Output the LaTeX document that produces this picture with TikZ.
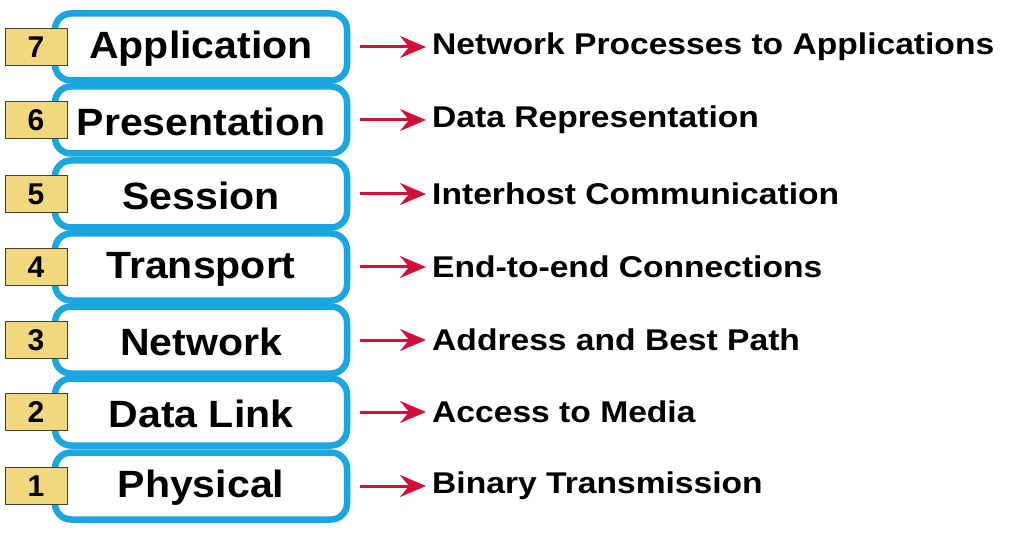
\documentclass[tikz,border=0pt]{standalone}
\usepackage{fontspec}
\setmainfont{Liberation Sans}
\usetikzlibrary{arrows.meta}
\definecolor{lblue}{HTML}{1AA7DF}
\definecolor{lyel}{HTML}{F3D77E}
\definecolor{lred}{HTML}{D0103A}
\begin{document}
\begin{tikzpicture}[x=1pt,y=-1pt,
 layer/.style={draw=lblue,line width=6.5pt,fill=white,rounded corners=16pt,minimum width=292pt,minimum height=67pt,inner sep=0pt},
 ltext/.style={font=\bfseries\fontsize{38}{40}\selectfont,inner sep=0pt,xscale=1.08},
 num/.style={draw=black!75,line width=1pt,fill=lyel,minimum width=62pt,minimum height=37pt,inner sep=0pt},
 ntext/.style={font=\bfseries\fontsize{30}{32}\selectfont,inner sep=0pt},
 desc/.style={anchor=west,font=\bfseries\fontsize{30}{32}\selectfont,inner sep=0pt,xscale=1.12},
 arr/.style={draw=lred,line width=3pt,-{Stealth[length=26pt,width=22pt,inset=9pt]},shorten >=6pt}]
\useasboundingbox (0,0) rectangle (1024,534);
\foreach \i/\t/\d/\y in {7/Application/Network Processes to Applications/47,
 6/Presentation/Data Representation/120,
 5/Session/Interhost Communication/194,
 4/Transport/End-to-end Connections/267,
 3/Network/Address and Best Path/340,
 2/Data Link/Access to Media/412,
 1/Physical/Binary Transmission/486}{
 \node[layer] (L\i) at (201,\y) {};
 \node[ltext] (T\i) at (201,\y+2) {\t};
 \node[num] (N\i) at (36,\y) {};
 \node[ntext] (M\i) at (36,\y) {\i};
 \node[desc] (D\i) at (432,\y) {\d};
 \coordinate (A\i) at (360,\y);
 \draw[arr] (A\i) -- (D\i.west);
}
\end{tikzpicture}
\end{document}
